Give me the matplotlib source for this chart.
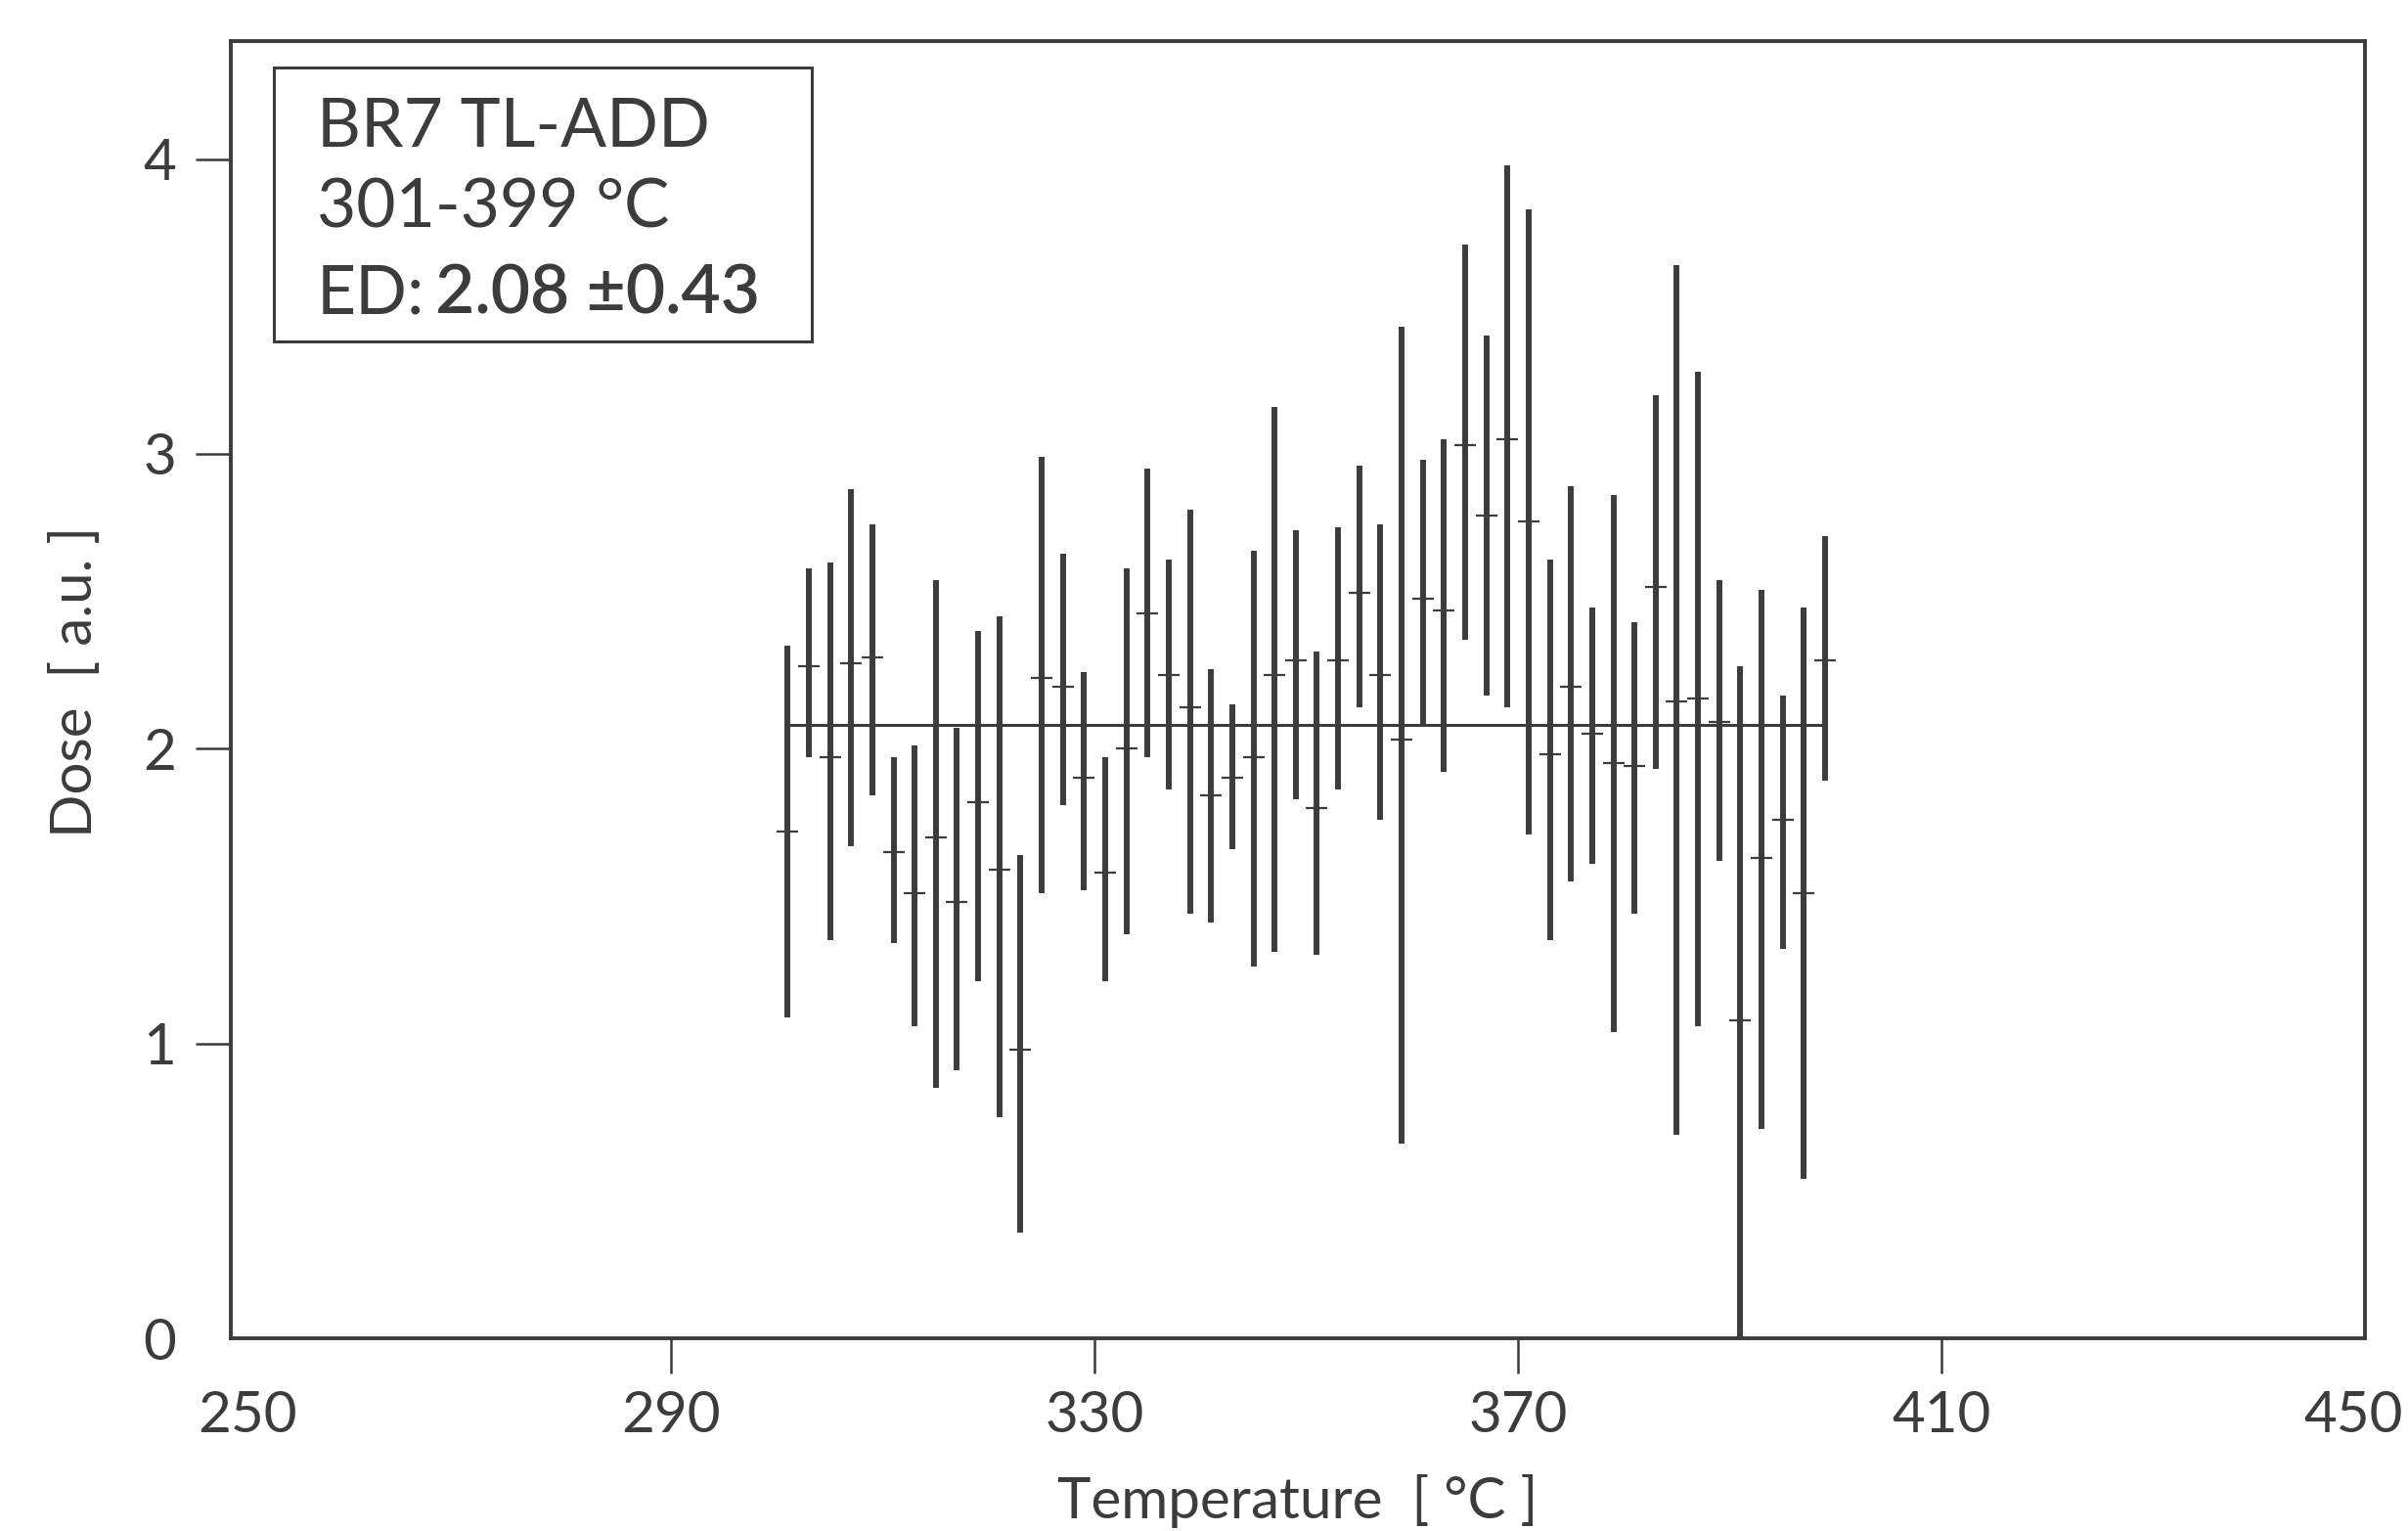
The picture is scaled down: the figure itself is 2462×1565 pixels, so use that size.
import numpy as np
import matplotlib
matplotlib.use("Agg")
import matplotlib.pyplot as plt
from matplotlib.patches import Rectangle
from matplotlib.transforms import ScaledTranslation

plt.rcParams['font.family'] = ['Lato', 'DejaVu Sans']

# temperature channels 301-399 C, 2 C steps
temps = np.arange(301, 401, 2)

# dose estimate per channel (centre tick) and the ends of its error bar
dose = [1.72, 2.28, 1.97, 2.29, 2.31, 1.65, 1.51, 1.70, 1.48, 1.82,
        1.59, 0.98, 2.24, 2.21, 1.90, 1.58, 2.00, 2.46, 2.25, 2.14,
        1.84, 1.90, 1.97, 2.25, 2.30, 1.80, 2.30, 2.53, 2.25, 2.03,
        2.51, 2.47, 3.03, 2.79, 3.05, 2.77, 1.98, 2.21, 2.05, 1.95,
        1.94, 2.55, 2.16, 2.17, 2.09, 1.08, 1.63, 1.76, 1.51, 2.30]
upper = [2.35, 2.61, 2.63, 2.88, 2.76, 1.97, 2.01, 2.57, 2.07, 2.40,
         2.45, 1.64, 2.99, 2.66, 2.26, 1.97, 2.61, 2.95, 2.64, 2.81,
         2.27, 2.15, 2.67, 3.16, 2.74, 2.33, 2.75, 2.96, 2.76, 3.43,
         2.98, 3.05, 3.71, 3.40, 3.98, 3.83, 2.64, 2.89, 2.48, 2.86,
         2.43, 3.20, 3.64, 3.28, 2.57, 2.28, 2.54, 2.18, 2.48, 2.72]
lower = [1.09, 1.97, 1.35, 1.67, 1.84, 1.34, 1.06, 0.85, 0.91, 1.21,
         0.75, 0.36, 1.51, 1.81, 1.52, 1.21, 1.37, 1.97, 1.86, 1.44,
         1.41, 1.66, 1.26, 1.31, 1.83, 1.30, 1.86, 2.14, 1.76, 0.66,
         2.08, 1.92, 2.37, 2.18, 2.14, 1.71, 1.35, 1.55, 1.61, 1.04,
         1.44, 1.93, 0.69, 1.06, 1.62, 0.00, 0.71, 1.32, 0.54, 1.89]

ed = 2.08
ed_err = 0.43

ink = '#3c3c3c'

fig = plt.figure(figsize=(24.62, 15.65), dpi=100, facecolor='white')
ax = fig.add_axes([236 / 2462, 197 / 1565, 2182 / 2462, 1326 / 1565])

dose = np.array(dose)
yerr = [dose - np.array(lower), np.array(upper) - dose]
ax.errorbar(temps, dose, yerr=yerr, fmt='none', ecolor=ink, elinewidth=4.3, capsize=0)
ax.plot(temps, dose, linestyle='none', marker='_', markersize=16,
        markeredgewidth=1.6, color=ink)
ax.hlines(ed, temps[0], temps[-1], color=ink, linewidth=2.2)

ax.set_xlim(248.4, 450)
ax.set_ylim(0, 4.40)
ax.set_xticks([250, 290, 330, 370, 410, 450])
ax.set_yticks([0, 1, 2, 3, 4])

for s in ax.spines.values():
    s.set_linewidth(2.8)
    s.set_color(ink)
ax.tick_params(direction='out', length=26, width=1.8, color=ink,
               labelcolor=ink, labelsize=42)
ax.tick_params(axis='x', pad=12)
ax.tick_params(axis='y', pad=14)
# no tick marks at the frame corners
for t in (ax.xaxis.get_major_ticks()[0], ax.xaxis.get_major_ticks()[-1],
          ax.yaxis.get_major_ticks()[0]):
    t.tick1line.set_visible(False)

# keep the last x label inside the picture
last = ax.get_xticklabels()[-1]
last.set_transform(last.get_transform() + ScaledTranslation(-0.12, 0, fig.dpi_scale_trans))

fig.text(1327 / 2462, 1 - 1535 / 1565, 'Temperature  [ °C ]', ha='center', va='center',
         fontsize=42, color=ink)
fig.text(78 / 2462, 1 - 697 / 1565, 'Dose  [ a.u. ]', ha='center', va='center',
         rotation=90, fontsize=42, color=ink)

# info box top left
ax.add_patch(Rectangle((0.0201, 0.7685), 0.2520, 0.2111, transform=ax.transAxes,
                       fill=False, edgecolor=ink, linewidth=2.2))
ax.text(0.0403, 0.9186, 'BR7 TL-ADD', transform=ax.transAxes, fontsize=50,
        color=ink, va='baseline')
ax.text(0.0403, 0.8560, '301-399 °C', transform=ax.transAxes, fontsize=50,
        color=ink, va='baseline')
ax.text(0.0403, 0.7903, 'ED:', transform=ax.transAxes, fontsize=50,
        color=ink, va='baseline')
ax.text(0.0958, 0.7903, f'{ed:.2f} ±{ed_err:.2f}', transform=ax.transAxes,
        fontsize=50, color=ink, va='baseline', fontweight='semibold')

fig.savefig('out.png', dpi=100, facecolor='white')
